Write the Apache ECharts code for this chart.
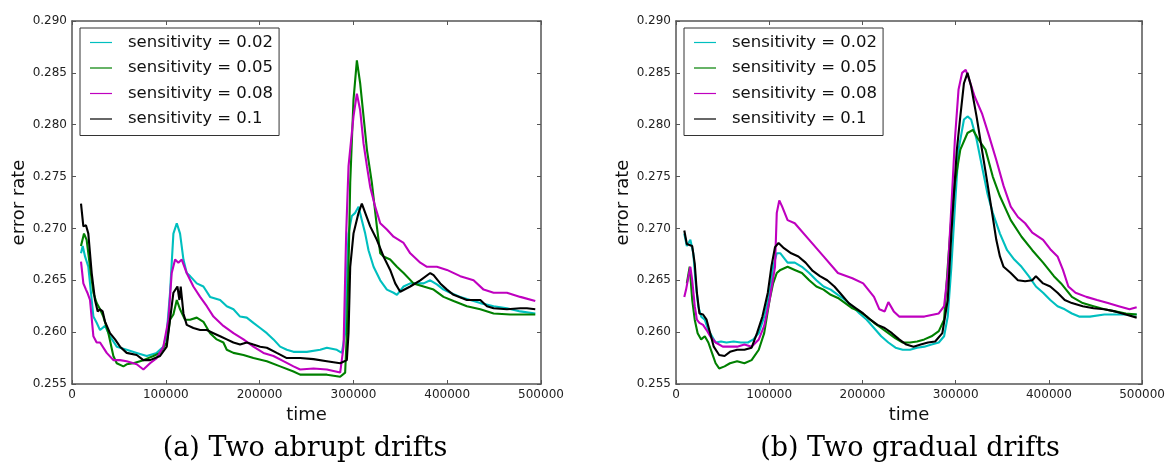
<!DOCTYPE html>
<html>
<head>
<meta charset="utf-8">
<script src="https://cdn.jsdelivr.net/npm/echarts@6/dist/echarts.min.js"></script>
<style>
html,body{margin:0;padding:0;background:#fff;}
#chart{width:1168px;height:474px;}
</style>
</head>
<body>
<div id="chart"></div>
<script>
// ---------- labels ----------
const seriesNames = ['sensitivity = 0.02', 'sensitivity = 0.05', 'sensitivity = 0.08', 'sensitivity = 0.1'];
const captions = ['(a) Two abrupt drifts', '(b) Two gradual drifts'];
const xTickValues = [0, 100000, 200000, 300000, 400000, 500000];
const yTickValues = [0.255, 0.260, 0.265, 0.270, 0.275, 0.280, 0.285, 0.290];

// ---------- (a) Two abrupt drifts ----------
const aCyanT = [9600,11400,13900,17400,21000,22800,26300,29900,35200,40500,47700,58300,69000,79700,90300,97400,101000,104500,108100,111700,115200,118800,122300,125900,133000,140100,147200,157900,165000,172100,179200,186300,193400,200600,207700,214800,221900,229000,236100,250300,264600,271700,282300,287700,291200,293000,294800,298300,301900,305500,309000,312600,316100,321500,328600,335700,342800,346400,353500,360600,374800,381900,389000,396100,403300,413900,424600,435300,449500,463700,477900,493900];
const aCyanV = [.2676,.2683,.2673,.2663,.2631,.2615,.2609,.2602,.2606,.2596,.2586,.2583,.2580,.2577,.2580,.2586,.2599,.2638,.2695,.2705,.2695,.2670,.2657,.2654,.2647,.2644,.2634,.2631,.2625,.2622,.2615,.2614,.2609,.2604,.2599,.2593,.2586,.2583,.2581,.2581,.2583,.2585,.2583,.2580,.2599,.2657,.2695,.2712,.2715,.2721,.2708,.2695,.2679,.2663,.2650,.2641,.2638,.2636,.2644,.2647,.2647,.2650,.2646,.2641,.2638,.2634,.2631,.2628,.2625,.2623,.2620,.2618];

const aGreenT = [9600,12800,15600,19200,22800,26300,29900,33400,38800,44100,47700,54800,58300,65400,76100,86800,93900,101000,104500,108100,111700,115200,120500,125900,133000,140100,147200,154300,161400,165000,172100,182800,193400,207700,221900,236100,243200,253900,271700,285900,291200,293000,294800,296600,300100,303700,307200,310800,314400,319700,325000,328600,332100,339200,346400,353500,364100,374800,385500,396100,406800,421000,435300,449500,467200,493900];
const aGreenV = [.2683,.2695,.2689,.2663,.2638,.2628,.2622,.2615,.2599,.2577,.2570,.2567,.2569,.2570,.2573,.2577,.2580,.2590,.2612,.2617,.2631,.2622,.2612,.2612,.2614,.2610,.2599,.2593,.2590,.2583,.2580,.2578,.2575,.2572,.2567,.2562,.2559,.2559,.2559,.2557,.2561,.2599,.2663,.2744,.2824,.2862,.2840,.2808,.2776,.2744,.2702,.2676,.2673,.2670,.2663,.2657,.2647,.2644,.2641,.2634,.2630,.2625,.2622,.2618,.2617,.2617];

const aMagentaT = [9600,12100,14900,16400,19200,22800,26300,29900,37000,44100,51200,58300,69000,76100,83200,90300,97400,102800,106300,109900,113400,117000,122300,129400,136600,143700,150800,161400,172100,182800,193400,204100,214800,225400,236100,243200,257500,271700,285900,289500,292300,294800,300100,303700,307200,310800,314400,317900,323200,328600,335700,342800,353500,360600,371300,378400,389000,399700,413900,428100,438800,449500,463700,477900,493900];
const aMagentaV = [.2668,.2647,.2641,.2638,.2631,.2596,.2590,.2590,.2580,.2573,.2573,.2572,.2569,.2564,.2570,.2575,.2586,.2612,.2657,.2670,.2667,.2670,.2657,.2644,.2634,.2625,.2615,.2606,.2599,.2593,.2586,.2580,.2577,.2572,.2567,.2564,.2565,.2564,.2561,.2586,.2695,.2760,.2808,.2830,.2814,.2782,.2760,.2740,.2721,.2705,.2699,.2692,.2686,.2676,.2667,.2663,.2663,.2660,.2654,.2650,.2641,.2638,.2638,.2634,.2630];

const aBlackT = [9600,12100,14900,17400,21000,24500,27400,29900,32700,35200,40500,45900,51200,58300,69000,76100,83200,93900,101000,104500,108100,112400,114500,115900,118800,122300,129400,136600,143700,150800,157900,165000,172100,179200,186300,193400,200600,207700,218300,229000,243200,257500,271700,285900,293000,294800,296600,300100,305500,309000,312600,317900,325000,332100,339200,344600,349900,360600,371300,381900,385500,392600,399700,406800,421000,435300,442400,449500,463700,477900,485000,493900];
const aBlackV = [.2724,.2702,.2703,.2695,.2657,.2631,.2620,.2622,.2620,.2610,.2599,.2593,.2586,.2580,.2578,.2573,.2573,.2577,.2586,.2612,.2638,.2644,.2631,.2644,.2618,.2607,.2604,.2602,.2602,.2599,.2596,.2593,.2590,.2588,.2590,.2588,.2586,.2585,.2580,.2575,.2575,.2574,.2572,.2570,.2573,.2599,.2663,.2695,.2715,.2724,.2715,.2702,.2689,.2673,.2660,.2647,.2639,.2644,.2650,.2657,.2655,.2647,.2641,.2636,.2631,.2631,.2625,.2623,.2622,.2623,.2623,.2622];

// ---------- (b) Two gradual drifts ----------
const bCyanT = [8900,11600,15400,18500,21200,23900,27000,30900,34700,38600,42500,48300,54100,61800,69500,77200,83000,88800,94600,100400,104200,108100,112000,119700,127400,135100,142900,150600,158300,166000,173700,181500,189200,196900,204600,212400,220100,227800,235500,243200,251000,258700,266400,274100,281900,287600,291500,295400,299200,303100,308900,312700,316600,322400,328200,334000,339800,347500,355200,362900,370700,378400,386100,393800,401500,409300,417000,424700,432400,444000,459500,474900,494200];
const bCyanV = [.2695,.2683,.2689,.2676,.2647,.2625,.2615,.2612,.2602,.2596,.2590,.2591,.2590,.2591,.2590,.2590,.2593,.2599,.2615,.2638,.2663,.2676,.2676,.2667,.2667,.2663,.2657,.2650,.2644,.2641,.2636,.2631,.2625,.2618,.2612,.2604,.2596,.2590,.2585,.2583,.2583,.2585,.2586,.2588,.2590,.2596,.2615,.2663,.2721,.2776,.2805,.2808,.2805,.2786,.2760,.2734,.2715,.2695,.2679,.2670,.2663,.2654,.2644,.2638,.2631,.2625,.2622,.2618,.2615,.2615,.2617,.2617,.2617];

const bGreenT = [11600,14700,17400,20100,23200,27000,30900,34700,38600,42500,46300,52100,57900,65600,73400,81100,88800,94600,100400,104200,108100,112000,119700,127400,135100,142900,150600,158300,166000,173700,181500,189200,196900,204600,212400,220100,227800,235500,243200,251000,258700,266400,274100,281900,287600,291500,295400,299200,305000,312700,318500,324300,332000,339800,347500,359100,370700,382200,393800,405400,413100,424700,436300,447900,459500,471000,482600,494200];
const bGreenV = [.2647,.2663,.2631,.2612,.2599,.2593,.2596,.2590,.2580,.2570,.2565,.2567,.2570,.2572,.2570,.2573,.2583,.2599,.2631,.2647,.2657,.2660,.2663,.2660,.2657,.2650,.2644,.2641,.2636,.2633,.2628,.2623,.2620,.2615,.2609,.2604,.2599,.2594,.2590,.2590,.2591,.2593,.2596,.2601,.2612,.2663,.2711,.2744,.2776,.2792,.2795,.2786,.2776,.2750,.2731,.2708,.2692,.2679,.2667,.2654,.2647,.2634,.2628,.2625,.2622,.2620,.2618,.2617];

const bMagentaT = [8900,10800,13500,15400,17400,20100,22400,25100,29000,32800,36700,42500,50200,57900,65600,73400,81100,88800,94600,100400,106200,108100,110800,113900,119700,127400,142900,158300,173700,189200,200800,212400,218200,223900,227800,233600,239400,251000,266400,281900,287600,291500,295400,299200,303100,306900,310800,314700,320500,328200,335900,343600,351400,359100,366800,374500,382200,393800,401500,409300,415100,420900,428600,440200,451700,463300,474900,486500,494200];
const bMagentaV = [.2634,.2641,.2654,.2663,.2650,.2625,.2612,.2609,.2607,.2602,.2596,.2590,.2586,.2586,.2586,.2588,.2586,.2593,.2606,.2631,.2663,.2715,.2727,.2721,.2708,.2705,.2689,.2673,.2657,.2652,.2647,.2634,.2622,.2620,.2629,.2620,.2615,.2615,.2615,.2618,.2625,.2657,.2721,.2786,.2834,.2850,.2853,.2843,.2827,.2811,.2789,.2766,.2741,.2721,.2711,.2705,.2696,.2689,.2680,.2673,.2660,.2644,.2638,.2634,.2631,.2628,.2625,.2622,.2624];

const bBlackT = [8900,11600,17400,20100,22400,25100,29000,32800,36700,40500,46300,52100,57900,65600,73400,81100,86900,92700,98500,102300,106200,110000,115800,123600,131300,139000,146700,154400,162200,169900,177600,185300,193100,200800,208500,216200,223900,231700,239400,247100,254800,262500,270300,278000,285700,291500,295400,301200,305000,308900,312700,316600,322400,328200,334000,339800,343600,347500,351400,359100,366800,374500,382200,386100,393800,401500,409300,417000,424700,436300,447900,459500,471000,482600,494200];
const bBlackV = [.2698,.2685,.2683,.2666,.2638,.2618,.2617,.2612,.2599,.2586,.2578,.2577,.2581,.2583,.2583,.2585,.2599,.2615,.2638,.2663,.2682,.2686,.2681,.2676,.2673,.2667,.2659,.2654,.2650,.2644,.2636,.2628,.2623,.2618,.2612,.2607,.2604,.2599,.2593,.2588,.2586,.2588,.2590,.2591,.2599,.2631,.2695,.2775,.2808,.2840,.2850,.2837,.2808,.2776,.2744,.2711,.2689,.2673,.2663,.2657,.2650,.2649,.2650,.2654,.2647,.2644,.2638,.2631,.2628,.2625,.2623,.2622,.2620,.2617,.2614];

// ---------- build ----------
const colors = ['#00BFBF', '#008000', '#BF00BF', '#000000'];
const zip = (t, v) => t.map((x, i) => [x, v[i]]);
const panels = [
  [zip(aCyanT, aCyanV), zip(aGreenT, aGreenV), zip(aMagentaT, aMagentaV), zip(aBlackT, aBlackV)],
  [zip(bCyanT, bCyanV), zip(bGreenT, bGreenV), zip(bMagentaT, bMagentaV), zip(bBlackT, bBlackV)]
];

const axisColor = '#555';
const labelColor = '#222';
const font = 'DejaVu Sans';
const gridLefts = [72, 676];

const grids = gridLefts.map(l => ({left: l, top: 21, width: 469, height: 363, show: false}));
const xAxes = [], yAxes = [], series = [], legends = [];
gridLefts.forEach((l, g) => {
  const xBase = {
    type: 'value', gridIndex: g, min: xTickValues[0], max: xTickValues[xTickValues.length - 1],
    interval: xTickValues[1] - xTickValues[0],
    splitLine: {show: false},
    axisLine: {show: true, onZero: false, lineStyle: {color: axisColor, width: 1.5}},
    axisTick: {show: true, inside: true, length: 4, lineStyle: {color: axisColor}}
  };
  xAxes.push(Object.assign({}, xBase, {
    position: 'bottom',
    name: 'time', nameLocation: 'middle', nameGap: 20,
    nameTextStyle: {fontFamily: font, fontSize: 18, color: '#111'},
    axisLabel: {show: true, fontFamily: font, fontSize: 12, color: labelColor, margin: 5,
      formatter: v => String(v)}
  }));
  xAxes.push(Object.assign({}, xBase, {position: 'top', axisLabel: {show: false}}));
  const yBase = {
    type: 'value', gridIndex: g, min: yTickValues[0], max: yTickValues[yTickValues.length - 1],
    interval: 0.005,
    splitLine: {show: false},
    axisLine: {show: true, onZero: false, lineStyle: {color: axisColor, width: 1.5}},
    axisTick: {show: true, inside: true, length: 4, lineStyle: {color: axisColor}}
  };
  yAxes.push(Object.assign({}, yBase, {
    position: 'left',
    name: 'error rate', nameLocation: 'middle', nameGap: 43, nameRotate: 90,
    nameTextStyle: {fontFamily: font, fontSize: 18, color: '#111'},
    axisLabel: {show: true, fontFamily: font, fontSize: 12, color: labelColor, margin: 5,
      formatter: v => v.toFixed(3)}
  }));
  yAxes.push(Object.assign({}, yBase, {position: 'right', axisLabel: {show: false}}));

  panels[g].forEach((d, i) => {
    series.push({
      type: 'line', name: seriesNames[i], xAxisIndex: g * 2, yAxisIndex: g * 2,
      data: d, symbol: 'none', smooth: false, animation: false,
      lineStyle: {color: colors[i], width: 2.1}, itemStyle: {color: colors[i]}
    });
  });

  legends.push({
    left: l + 8, top: 28, orient: 'vertical',
    data: seriesNames.map((n, i) => ({name: n, itemStyle: {color: colors[i], borderWidth: 0}})),
    icon: 'path://M0,0 L22,0 L22,1.2 L0,1.2 Z',
    itemWidth: 22, itemHeight: 14, itemGap: 8.5,
    padding: [6, 6, 8, 10],
    borderColor: '#333', borderWidth: 1, borderRadius: 0,
    backgroundColor: '#fff',
    textStyle: {fontFamily: font, fontSize: 16.5, color: '#111', padding: [0, 0, 0, 11]},
    selectedMode: false
  });
});

const chart = echarts.init(document.getElementById('chart'), null, {renderer: 'canvas'});
chart.setOption({
  backgroundColor: '#fff',
  animation: false,
  grid: grids,
  xAxis: xAxes,
  yAxis: yAxes,
  legend: legends,
  series: series,
  graphic: captions.map((c, i) => ({
    type: 'text',
    x: [305, 910][i], y: 449,
    style: {text: c, fill: '#000', font: '27px "DejaVu Serif"', align: 'center', verticalAlign: 'middle'}
  }))
});
</script>
</body>
</html>
